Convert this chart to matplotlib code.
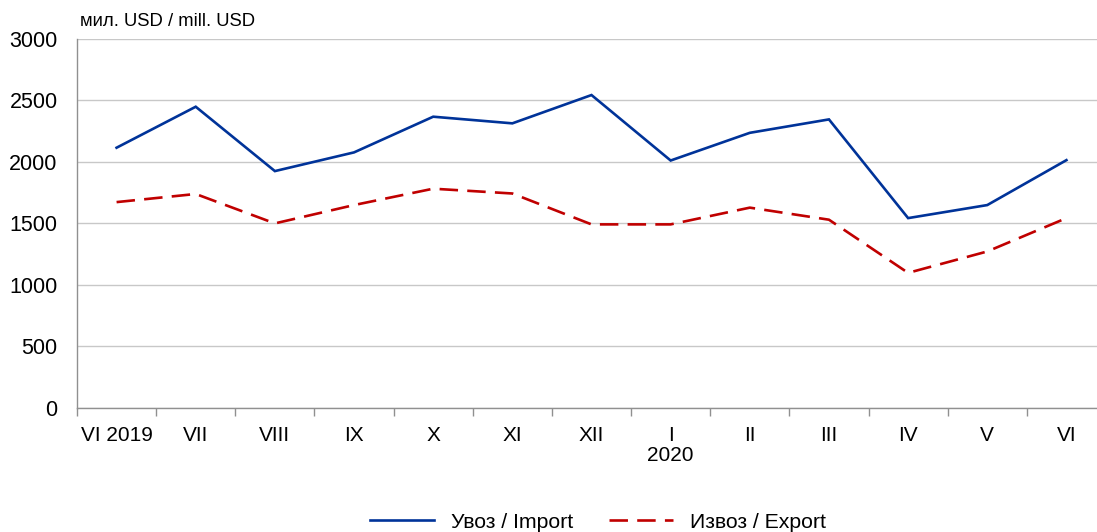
import numpy as np
import matplotlib
matplotlib.use("Agg")
from matplotlib import pyplot as plt

# podaci
months = ["VI 2019", "VII", "VIII", "IX", "X", "XI", "XII", "I\n2020", "II", "III", "IV", "V", "VI"]
imports = [2115, 2448, 1925, 2077, 2367, 2313, 2543, 2011, 2236, 2345, 1543, 1649, 2014]
exports = [1673, 1739, 1500, 1649, 1782, 1743, 1492, 1492, 1628, 1530, 1098, 1272, 1543]
y_ticks = [0, 500, 1000, 1500, 2000, 2500, 3000]

plt.rcParams["font.family"] = ["Liberation Sans", "DejaVu Sans"]

fig = plt.figure(figsize=(10.97, 5.32), dpi=100)
ax = fig.add_axes([77 / 1097, 1 - 408 / 532, 1029 / 1097, (408 - 38.8) / 532])

x = np.arange(len(months))
ax.plot(x, imports, color="#003399", lw=1.9, label="Увоз / Import", solid_joinstyle="miter")
ax.plot(x, exports, color="#C00000", lw=1.9, dashes=(7, 3.5), label="Извоз / Export")

ax.set_xlim(-0.5, len(months) - 0.5)
ax.set_ylim(0, 3000)
ax.set_yticks(y_ticks)
ax.grid(axis="y", color="#c8c8c8", lw=1)
ax.set_axisbelow(True)

# x ticks between categories, labels at centres
ax.set_xticks(x)
ax.set_xticklabels(months, fontsize=15, linespacing=1.05)
ax.set_xticks(np.arange(-0.5, len(months) + 0.5), minor=True)
ax.tick_params(axis="x", which="major", length=0, pad=13)
ax.tick_params(axis="x", which="minor", length=6, color="#909090", width=1)
ax.tick_params(axis="y", length=0, pad=14, labelsize=15.5)

for s in ["top", "right"]:
    ax.spines[s].set_visible(False)
for s in ["left", "bottom"]:
    ax.spines[s].set_color("#909090")
    ax.spines[s].set_linewidth(1)

fig.text(80 / 1097, 1 - 22 / 532, "мил. USD / mill. USD", fontsize=13.3, va="center", ha="left")

fig.legend(loc="center", bbox_to_anchor=(598 / 1097, 1 - 522 / 532), ncol=2, frameon=False,
           fontsize=15.3, handlelength=3.0, handletextpad=0.8, columnspacing=1.7)

fig.savefig("out.png", dpi=100)
